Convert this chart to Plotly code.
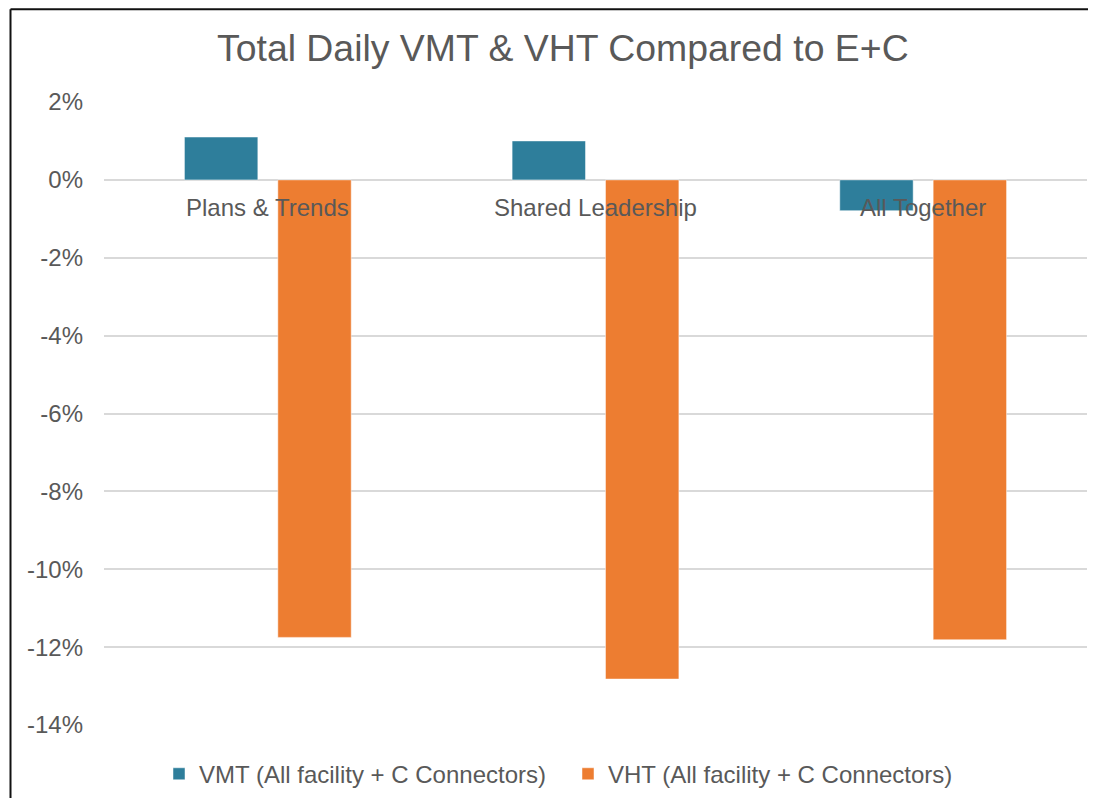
import plotly.graph_objects as go

categories = ["Plans & Trends", "Shared Leadership", "All Together"]
vmt = [1.10, 1.00, -0.79]
vht = [-11.75, -12.82, -11.81]
series_names = ["VMT (All facility + C Connectors)", "VHT (All facility + C Connectors)"]
tick_vals = [2, 0, -2, -4, -6, -8, -10, -12, -14]
tick_text = ["2%", "0%", "-2%", "-4%", "-6%", "-8%", "-10%", "-12%", "-14%"]
title_text = "Total Daily VMT & VHT Compared to E+C"

FONT = "Liberation Sans, Arial, sans-serif"
GREY = "#595959"
FS = 24

# page is offset by the default 8px body margin; figure coordinates are compensated
PLOT_L, PLOT_R, PLOT_T, PLOT_B = 104, 1087, 102, 726.7   # page pixels
OFF = 8
W, H = 1080, 790
PW, PH = PLOT_R - PLOT_L, PLOT_B - PLOT_T

fig = go.Figure()
fig.add_trace(go.Bar(x=categories, y=vmt, name=series_names[0],
                     marker=dict(color="#2E7E9B", line=dict(color="rgba(255,255,255,0.6)", width=0.8))))
fig.add_trace(go.Bar(x=categories, y=vht, name=series_names[1],
                     marker=dict(color="#ED7D31", line=dict(color="rgba(255,255,255,0.6)", width=0.8))))

for c in categories:
    fig.add_annotation(x=c, y=0, xref="x", yref="y", text=c, showarrow=False,
                       yanchor="middle", yshift=-28,
                       font=dict(family=FONT, size=FS, color=GREY))

fig.add_annotation(text=title_text, xref="paper", yref="paper",
                   x=(562.6 - PLOT_L) / PW, y=(PLOT_B - 47.5) / PH,
                   xanchor="center", yanchor="middle", showarrow=False,
                   font=dict(family=FONT, size=37.4, color=GREY))

# chart-area border (only left and top edges are visible; cropped at right and bottom)
bx0 = (10.5 - PLOT_L) / PW
by1 = (PLOT_B - 9) / PH
fig.add_shape(type="line", xref="paper", yref="paper", x0=bx0, x1=bx0, y0=-0.3, y1=by1,
              line=dict(color="#111111", width=2), layer="above")
fig.add_shape(type="line", xref="paper", yref="paper", x0=bx0, x1=1.2, y0=by1, y1=by1,
              line=dict(color="#111111", width=2), layer="above")

fig.update_layout(
    width=W, height=H,
    margin=dict(l=PLOT_L - OFF, r=W - (PLOT_R - OFF), t=PLOT_T - OFF, b=H - (PLOT_B - OFF)),
    paper_bgcolor="white", plot_bgcolor="white",
    barmode="group", bargap=0.43, bargroupgap=0.214,
    font=dict(family=FONT, size=FS, color=GREY),
    showlegend=True,
    legend=dict(orientation="h", x=(159 - PLOT_L) / PW, xanchor="left",
                y=(PLOT_B - 776) / PH, yanchor="middle",
                font=dict(family=FONT, size=FS, color=GREY),
                entrywidth=364, entrywidthmode="pixels",
                bgcolor="rgba(0,0,0,0)"),
    xaxis=dict(showticklabels=False, showgrid=False, zeroline=False, showline=False),
    yaxis=dict(range=[-14, 2], tickvals=tick_vals, ticktext=tick_text,
               showgrid=True, gridcolor="#D9D9D9", gridwidth=1.5,
               zeroline=True, zerolinecolor="#D9D9D9", zerolinewidth=1.5,
               showline=False, ticks="", ticklabelstandoff=20,
               tickfont=dict(family=FONT, size=FS, color=GREY)),
)

fig.write_html("out.html")
